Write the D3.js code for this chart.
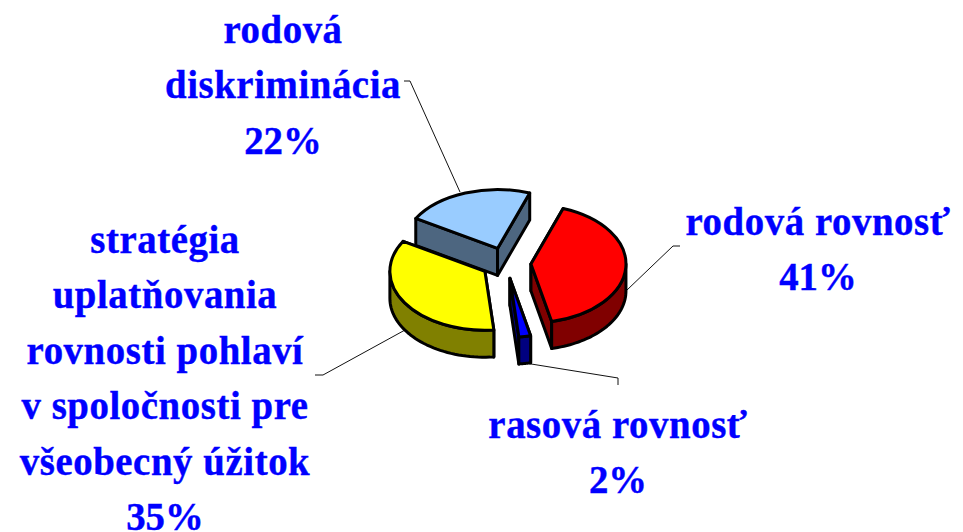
<!DOCTYPE html>
<html><head><meta charset="utf-8">
<script src="https://cdnjs.cloudflare.com/ajax/libs/d3/7.8.5/d3.min.js"></script>
<style>html,body{margin:0;background:#fff}svg{display:block}</style>
</head><body><script>
const categories = ["rodová rovnosť","rasová rovnosť","stratégia uplatňovania rovnosti pohlaví v spoločnosti pre všeobecný úžitok","rodová diskriminácia"];
const values = [41,2,35,22];
const topColors = ["#ff0000","#0000ff","#ffff00","#99ccff"];
const sideColors = ["#800000","#000080","#808000","#4d6680"];
const labelLines = [["rodová rovnosť","41%"],["rasová rovnosť","2%"],["stratégia","uplatňovania","rovnosti pohlaví","v spoločnosti pre","všeobecný úžitok","35%"],["rodová","diskriminácia","22%"]];

const W=963,H=532,cx=506,cy=263,R=95,k=0.62,depth=27,explode=25,hScale=0.97;
const labelPos=[{x:818,y:235},{x:618,y:438},{x:165,y:253},{x:283,y:43}];
const leaders=[[[627,290],[673,246],[680,246]],[[525,363],[618,378],[618,385]],[[405,330],[323,375],[315,375]],[[460,192],[410,81],[404,81]]];

const svg=d3.select("body").append("svg").attr("width",W).attr("height",H);
const deg=Math.PI/180;
const pie=d3.pie().sort(null).startAngle(19.8*deg).endAngle(379.8*deg)(values);
const arcGen=d3.arc().innerRadius(0).outerRadius(R);
const line=d3.line();
const lineStyle=s=>s.attr("stroke","#000").attr("stroke-width",3).attr("stroke-linejoin","round");

// leader lines
svg.append("g").selectAll("path").data(leaders).join("path")
  .attr("d",d=>line(d)).attr("fill","none").attr("stroke","#111").attr("stroke-width",1);

// back slices first so the yellow top overlaps the pale blue wall
const order=[3,2,1,0];
order.forEach(i=>{
  const p=pie[i], mid=(p.startAngle+p.endAngle)/2;
  const ax=cx+explode*Math.sin(mid), ay=cy-explode*k*Math.cos(mid);
  const pt=(a,dz=0)=>[ax+R*Math.sin(a), ay-R*k*Math.cos(a)+dz];
  const g=svg.append("g");
  // radial walls
  [p.startAngle,p.endAngle].forEach(a=>{
    g.append("path").attr("d",line([[ax,ay],pt(a),pt(a,depth),[ax,ay+depth]])+"Z")
      .attr("fill",sideColors[i]).call(lineStyle);
  });
  // outer wall for the part of the rim that faces the viewer
  const a0=Math.max(p.startAngle,90*deg), a1=Math.min(p.endAngle,270*deg);
  if(a1>a0){
    const as=d3.range(0,41).map(t=>a0+(a1-a0)*t/40);
    const pts=as.map(a=>pt(a)).concat(as.slice().reverse().map(a=>pt(a,depth)));
    g.append("path").attr("d",line(pts)+"Z").attr("fill",sideColors[i]).call(lineStyle);
  }
  // top face
  g.append("path").attr("d",arcGen(p))
    .attr("transform",`translate(${ax},${ay}) scale(1,${k})`)
    .attr("vector-effect","non-scaling-stroke")
    .attr("fill",topColors[i]).call(lineStyle);
});

// labels
labelLines.forEach((lines,i)=>{
  svg.append("g").selectAll("text").data(lines).join("text")
    .attr("transform",(d,j)=>`translate(${labelPos[i].x},${labelPos[i].y+j*55.4}) scale(${hScale},1)`)
    .attr("text-anchor","middle")
    .attr("font-family","'Liberation Serif',serif").attr("font-weight","bold")
    .attr("font-size",40).attr("fill","#0000ff")
    .attr("stroke","#0000ff").attr("stroke-width",0.4)
    .attr("letter-spacing",d=>d.endsWith("%")?0:0.6)
    .text(d=>d);
});
</script></body></html>
